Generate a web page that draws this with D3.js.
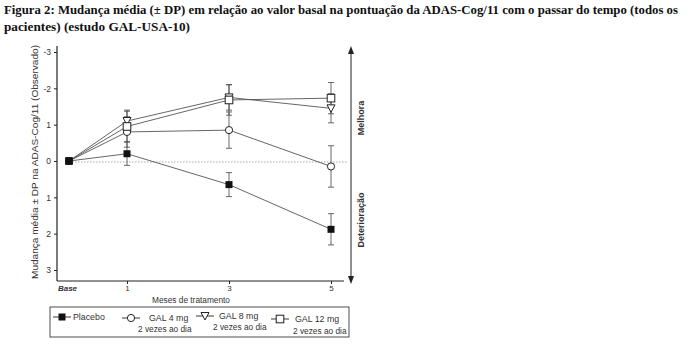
<!DOCTYPE html>
<html><head><meta charset="utf-8">
<script src="https://cdn.jsdelivr.net/npm/d3@7"></script>
<style>body{margin:0;background:#fff}svg{display:block}</style>
</head><body><svg id="c" width="698" height="346"></svg>
<script>
const months = [0, 1, 3, 5];
const xTickLabels = ["Base", "1", "3", "5"];
const yTicks = [-3, -2, -1, 0, 1, 2, 3];
const yTickLabels = ["-3", "-2", "1", "0", "1", "2", "3"];
const placebo = [0, -0.2, 0.65, 1.88];
const placeboSD = [0, 0.32, 0.33, 0.43];
const gal4 = [0, -0.8, -0.85, 0.15];
const gal4SD = [0, 0.42, 0.5, 0.57];
const gal8 = [0, -1.1, -1.75, -1.45];
const gal8SD = [0, 0.3, 0.35, 0.4];
const gal12 = [0, -0.95, -1.68, -1.73];
const gal12SD = [0, 0.42, 0.42, 0.43];
const seriesNames = ["Placebo", "GAL 4 mg", "GAL 8 mg", "GAL 12 mg"];
const subLabel = "2 vezes ao dia";

const svg = d3.select("#c");
const ink = "#222";
const x = d3.scaleLinear().domain([0, 1, 5]).range([69, 127, 331]);
const y = d3.scaleLinear().domain([-3, 3]).range([52, 270]);

// title
const t = svg.append("g").attr("font-family", "Liberation Serif, Times New Roman, serif")
  .attr("font-weight", "bold").attr("font-size", 13).attr("fill", "#111");
t.append("text").attr("x", 4).attr("y", 14).attr("textLength", 674).attr("lengthAdjust", "spacingAndGlyphs")
  .text("Figura 2: Mudança média (± DP) em relação ao valor basal na pontuação da ADAS-Cog/11 com o passar do tempo (todos os");
t.append("text").attr("x", 4).attr("y", 31).attr("textLength", 186).attr("lengthAdjust", "spacingAndGlyphs").text("pacientes) (estudo GAL-USA-10)");

const sans = "Liberation Sans, Arial, sans-serif";
// axes frame
svg.append("line").attr("x1", 57).attr("x2", 57).attr("y1", 46).attr("y2", 281).attr("stroke", ink).attr("stroke-width", 1.2);
svg.append("line").attr("x1", 57).attr("x2", 344).attr("y1", 281).attr("y2", 281).attr("stroke", ink).attr("stroke-width", 1.2);

const yAxis = d3.axisLeft(y).tickValues(yTicks).tickSize(3).tickFormat((d, i) => yTickLabels[i]);
const ya = svg.append("g").attr("transform", "translate(57,0)").call(yAxis);
ya.select(".domain").remove();
ya.selectAll("line").attr("stroke", ink);
ya.selectAll("text").attr("font-family", sans).attr("font-size", 8.5).attr("fill", "#333");

const xAxis = d3.axisBottom(x).tickValues(months).tickSize(3).tickFormat((d, i) => xTickLabels[i]);
const xa = svg.append("g").attr("transform", "translate(0,281)").call(xAxis);
xa.select(".domain").remove();
xa.selectAll("line").attr("stroke", ink).filter(d => d === 0).remove();
xa.selectAll("text").attr("font-family", sans).attr("font-size", 8).attr("fill", "#333").attr("y", 4).attr("dy", "0.71em");
xa.selectAll("text").filter(d => d === 0).attr("font-weight", "bold").attr("font-style", "italic").attr("x", -2);

// zero dotted line
svg.append("line").attr("x1", x(0)).attr("x2", 348).attr("y1", y(0) + 1).attr("y2", y(0) + 1)
  .attr("stroke", "#888").attr("stroke-width", 0.7).attr("stroke-dasharray", "1.5,1.5");

// labels
svg.append("text").attr("transform", `translate(38,162) rotate(-90)`).attr("text-anchor", "middle")
  .attr("font-family", sans).attr("font-size", 9.5).attr("fill", "#333")
  .attr("textLength", 234).attr("lengthAdjust", "spacingAndGlyphs")
  .text("Mudança média ± DP na ADAS-Cog/11 (Observado)");
svg.append("text").attr("x", 191).attr("y", 303).attr("text-anchor", "middle")
  .attr("font-family", sans).attr("font-size", 8.3).attr("fill", "#333").text("Meses de tratamento");

// right arrow
svg.append("line").attr("x1", 351).attr("x2", 351).attr("y1", 52).attr("y2", 278).attr("stroke", ink).attr("stroke-width", 1);
svg.append("path").attr("d", "M351,46 L348,54 L354,54 Z").attr("fill", ink);
svg.append("path").attr("d", "M351,284 L348,276 L354,276 Z").attr("fill", ink);
svg.append("text").attr("transform", "translate(364,118) rotate(-90)").attr("text-anchor", "middle")
  .attr("font-family", sans).attr("font-size", 9).attr("font-weight", "bold").attr("fill", "#333").text("Melhora");
svg.append("text").attr("transform", "translate(364,220) rotate(-90)").attr("text-anchor", "middle")
  .attr("font-family", sans).attr("font-size", 9).attr("font-weight", "bold").attr("fill", "#333").text("Deterioração");

const series = [
  {v: placebo, sd: placeboSD, m: "sqf"},
  {v: gal4, sd: gal4SD, m: "circ"},
  {v: gal8, sd: gal8SD, m: "tri"},
  {v: gal12, sd: gal12SD, m: "sq"}
];
function marker(g, type, cx, cy) {
  if (type === "sqf") g.append("rect").attr("x", cx - 3.5).attr("y", cy - 3.5).attr("width", 7).attr("height", 7).attr("fill", "#111");
  else if (type === "sq") g.append("rect").attr("x", cx - 3.8).attr("y", cy - 3.8).attr("width", 7.6).attr("height", 7.6).attr("fill", "#fff").attr("stroke", ink).attr("stroke-width", 1);
  else if (type === "circ") g.append("circle").attr("cx", cx).attr("cy", cy).attr("r", 3.6).attr("fill", "#fff").attr("stroke", ink).attr("stroke-width", 1);
  else if (type === "tri") g.append("path").attr("d", `M${cx - 4},${cy - 3.5} L${cx + 4},${cy - 3.5} L${cx},${cy + 4} Z`).attr("fill", "#fff").attr("stroke", ink).attr("stroke-width", 1);
}
const line = d3.line().x((d, i) => x(months[i])).y(d => y(d));
const plot = svg.append("g");
series.forEach(s => {
  plot.append("path").attr("d", line(s.v)).attr("fill", "none").attr("stroke", "#555").attr("stroke-width", 0.9);
});
series.forEach(s => {
  s.v.forEach((v, i) => {
    if (!s.sd[i]) return;
    const cx = x(months[i]);
    const g = plot.append("g").attr("stroke", "#444").attr("stroke-width", 0.8);
    g.append("line").attr("x1", cx).attr("x2", cx).attr("y1", y(v - s.sd[i])).attr("y2", y(v + s.sd[i]));
    [v - s.sd[i], v + s.sd[i]].forEach(e => g.append("line").attr("x1", cx - 3).attr("x2", cx + 3).attr("y1", y(e)).attr("y2", y(e)));
  });
});
series.forEach(s => {
  s.v.forEach((v, i) => marker(plot, i === 0 ? "sqf" : s.m, x(months[i]), y(v)));
});

// legend
svg.append("rect").attr("x", 50).attr("y", 307).attr("width", 299).attr("height", 30).attr("fill", "none").attr("stroke", ink).attr("stroke-width", 0.8);
const leg = [
  {sx: 53, tx: 73, ty: 320},
  {sx: 122, tx: 149, ty: 321, sub: 138, sy2: 332},
  {sx: 196, tx: 219, ty: 319, sub: 213, sy2: 330},
  {sx: 271, tx: 295, ty: 322, sub: 293, sy2: 334}
];
leg.forEach((l, i) => {
  const sy = l.ty - 3;
  svg.append("line").attr("x1", l.sx).attr("x2", l.sx + 18).attr("y1", sy).attr("y2", sy).attr("stroke", ink).attr("stroke-width", 0.9);
  marker(svg, series[i].m, l.sx + 9, sy);
  svg.append("text").attr("x", l.tx).attr("y", l.ty).attr("font-family", sans).attr("font-size", 8.8).attr("fill", "#333").text(seriesNames[i]);
  if (l.sub) svg.append("text").attr("x", l.sub).attr("y", l.sy2).attr("font-family", sans).attr("font-size", 8.3).attr("fill", "#333").text(subLabel);
});
</script></body></html>
